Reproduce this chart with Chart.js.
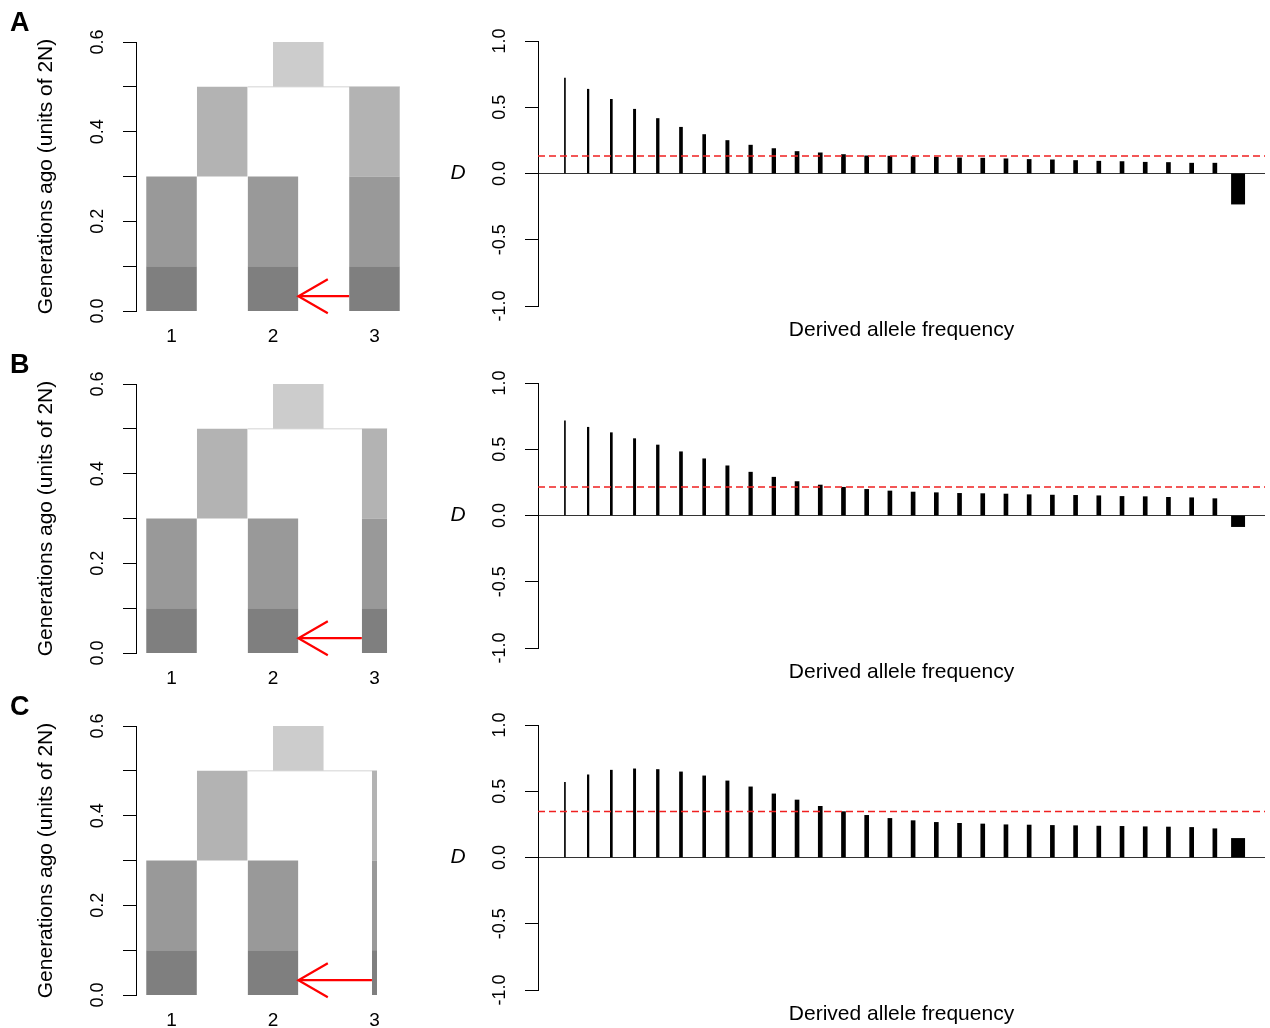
<!DOCTYPE html>
<html>
<head>
<meta charset="utf-8">
<script src="https://cdn.jsdelivr.net/npm/chart.js@4.4.1/dist/chart.umd.min.js"></script>
<style>
  body { margin: 0; background: #fff; width: 1270px; height: 1028px; position: relative; overflow: hidden; font-family: 'Liberation Sans', Arial, sans-serif; }
  .box { position: absolute; }
  .tag { position: absolute; font-weight: bold; font-size: 27px; line-height: 27px; color: #000; }
</style>
</head>
<body>
<script>
// panels and tree model
const panelTags = ['A', 'B', 'C'];
const popLabels = ['1', '2', '3'];
const popCenters = [1, 2, 3];
const anc12Center = 1.5;
const rootCenter = 2.25;
const pop3Size = [1, 0.5, 0.1];       // relative size of population 3 in A, B, C
const epochs = [0, 0.1, 0.3, 0.5, 0.6]; // generations ago (units of 2N)
const arrowTime = 0.033;
const treeTicks = [0, 0.1, 0.2, 0.3, 0.4, 0.5, 0.6];

// D statistic per derived allele frequency bin
const dTicks = [-1, -0.5, 0, 0.5, 1];
const dA = [0.721, 0.636, 0.560, 0.485, 0.415, 0.349, 0.294, 0.249, 0.214, 0.188,
            0.166, 0.156, 0.143, 0.133, 0.131, 0.126, 0.123, 0.118, 0.116, 0.111,
            0.106, 0.103, 0.098, 0.093, 0.090, 0.085, 0.083, 0.078, 0.078, -0.231];
const dB = [0.714, 0.666, 0.625, 0.580, 0.532, 0.481, 0.428, 0.375, 0.327, 0.289,
            0.256, 0.230, 0.213, 0.197, 0.185, 0.177, 0.172, 0.167, 0.165, 0.162,
            0.157, 0.154, 0.152, 0.149, 0.144, 0.142, 0.137, 0.134, 0.127, -0.084];
const dC = [0.568, 0.624, 0.659, 0.669, 0.664, 0.646, 0.616, 0.578, 0.533, 0.480,
            0.434, 0.386, 0.346, 0.318, 0.295, 0.278, 0.265, 0.258, 0.253, 0.247,
            0.245, 0.242, 0.240, 0.237, 0.235, 0.232, 0.230, 0.227, 0.217, 0.144];
const dMean = [0.133, 0.215, 0.348];

// styles
const barPx = [1, 1.6, 2, 2.3, 2.7, 3, 3, 3.3, 3.6, 3.7,
               4, 4, 4, 4, 4, 4, 4, 4, 4, 4, 4, 4, 4, 4, 4, 4, 4, 4, 4, 13.3];
const greys = { dark: '#7f7f7f', mid: '#999999', light: '#b3b3b3', root: '#cccccc' };
const rowTops = [0, 342, 684];

Chart.defaults.font.family = "'Liberation Sans', Arial, sans-serif";
Chart.defaults.color = '#000';

function rect(xc, size, t0, t1, color) {
    const h = size * 0.25;
    return {
        data: [{ x: xc - h, y: t1 }, { x: xc + h, y: t1 }],
        fill: { value: t0 },
        backgroundColor: color,
        borderColor: 'rgba(0,0,0,0)',
        borderWidth: 0,
        pointRadius: 0,
        order: 2
    };
}

// arrow head for the migration arrow
const arrowHead = {
    id: 'arrowHead',
    afterDatasetsDraw(chart) {
        chart.data.datasets.forEach((ds, i) => {
            if (!ds.arrow) return;
            const tip = chart.getDatasetMeta(i).data[1];
            const ctx = chart.ctx;
            const L = 34, a = Math.PI / 6;
            ctx.save();
            ctx.strokeStyle = ds.borderColor;
            ctx.lineWidth = ds.borderWidth;
            ctx.beginPath();
            ctx.moveTo(tip.x + L * Math.cos(a), tip.y - L * Math.sin(a));
            ctx.lineTo(tip.x, tip.y);
            ctx.lineTo(tip.x + L * Math.cos(a), tip.y + L * Math.sin(a));
            ctx.stroke();
            ctx.restore();
        });
    }
};

// italic D beside the y axis
const dLabel = {
    id: 'dLabel',
    afterDraw(chart) {
        const ctx = chart.ctx;
        ctx.save();
        ctx.font = "italic 21px 'Liberation Sans', Arial, sans-serif";
        ctx.fillStyle = '#000';
        ctx.textAlign = 'center';
        ctx.textBaseline = 'middle';
        ctx.fillText('D', 18, chart.scales.y.getPixelForValue(0));
        ctx.restore();
    }
};

function addCanvas(left, top, w, h) {
    const c = document.createElement('canvas');
    c.width = w; c.height = h;
    c.className = 'box';
    c.style.left = left + 'px';
    c.style.top = top + 'px';
    c.style.width = w + 'px';
    c.style.height = h + 'px';
    document.body.appendChild(c);
    return c;
}

function drawTree(r) {
    const s = pop3Size[r];
    const [t0, t1, t2, t3, t4] = epochs;
    const datasets = [
        {
            data: [{ x: anc12Center + 0.25, y: t3 }, { x: popCenters[2] + s * 0.25, y: t3 }],
            borderColor: '#e2e2e2', borderWidth: 1.5, pointRadius: 0, fill: false, order: 3
        },
        rect(popCenters[0], 1, t0, t1, greys.dark),
        rect(popCenters[0], 1, t1, t2, greys.mid),
        rect(popCenters[1], 1, t0, t1, greys.dark),
        rect(popCenters[1], 1, t1, t2, greys.mid),
        rect(anc12Center, 1, t2, t3, greys.light),
        rect(popCenters[2], s, t0, t1, greys.dark),
        rect(popCenters[2], s, t1, t2, greys.mid),
        rect(popCenters[2], s, t2, t3, greys.light),
        rect(rootCenter, 1, t3, t4, greys.root),
        {
            data: [{ x: popCenters[2] - s * 0.25, y: arrowTime }, { x: popCenters[1] + 0.25, y: arrowTime }],
            borderColor: '#ff0000', borderWidth: 2.2, pointRadius: 0, fill: false, order: 0, arrow: true
        }
    ];
    new Chart(addCanvas(0, rowTops[r], 420, 343), {
        type: 'line',
        data: { datasets },
        plugins: [arrowHead],
        options: {
            responsive: false,
            animation: false,
            events: [],
            layout: { padding: { top: 42, right: 10, left: 0, bottom: 0 } },
            plugins: { legend: { display: false }, tooltip: { enabled: false } },
            scales: {
                x: {
                    type: 'linear', min: 0.65, max: 3.35,
                    afterBuildTicks: sc => { sc.ticks = popCenters.map(v => ({ value: v })); },
                    ticks: { callback: v => popLabels[popCenters.indexOf(v)], font: { size: 19 }, padding: 14, maxRotation: 0 },
                    grid: { display: false, drawTicks: false },
                    border: { display: false },
                    afterFit: sc => { sc.height = 32; }
                },
                y: {
                    type: 'linear', min: 0, max: 0.6,
                    afterBuildTicks: sc => { sc.ticks = treeTicks.map(v => ({ value: v })); },
                    ticks: {
                        callback: v => (Math.round(v * 10) % 2 ? '' : v.toFixed(1)),
                        minRotation: 90, maxRotation: 90, crossAlign: 'center',
                        padding: 12.5, font: { size: 18 }
                    },
                    grid: { drawOnChartArea: false, tickLength: 13, tickColor: '#000', color: '#000' },
                    border: { display: true, color: '#000', width: 1 },
                    title: { display: true, text: 'Generations ago (units of 2N)', font: { size: 21 }, padding: { top: 34, bottom: 0 } },
                    afterFit: sc => { sc.width = 136; }
                }
            }
        }
    });
}

function drawD(r, values) {
    const datasets = values.map((v, i) => ({
        type: 'bar',
        data: [{ x: i + 1, y: v }],
        backgroundColor: '#000',
        barThickness: barPx[i],
        grouped: false,
        order: 1
    }));
    datasets.push({
        type: 'line',
        data: [{ x: -0.16, y: dMean[r] }, { x: 31.16, y: dMean[r] }],
        borderColor: '#f02020', borderWidth: 1.5, borderDash: [7, 4],
        pointRadius: 0, fill: false, order: 0
    });
    new Chart(addCanvas(440, rowTops[r], 830, 343), {
        type: 'bar',
        data: { datasets },
        plugins: [dLabel],
        options: {
            responsive: false,
            animation: false,
            events: [],
            layout: { padding: { top: 41, right: 5, left: 0, bottom: 0 } },
            plugins: { legend: { display: false }, tooltip: { enabled: false } },
            scales: {
                x: {
                    type: 'linear', min: -0.16, max: 31.16, offset: false,
                    ticks: { display: false },
                    grid: { display: false, drawTicks: false },
                    border: { display: false },
                    title: { display: true, text: 'Derived allele frequency', font: { size: 21 }, padding: { top: 0, bottom: 0 } },
                    afterFit: sc => { sc.height = 37; }
                },
                y: {
                    type: 'linear', min: -1, max: 1,
                    afterBuildTicks: sc => { sc.ticks = dTicks.map(v => ({ value: v })); },
                    ticks: {
                        callback: v => v.toFixed(1),
                        minRotation: 90, maxRotation: 90, crossAlign: 'center',
                        padding: 9.5, font: { size: 18 }
                    },
                    grid: {
                        drawOnChartArea: true, tickLength: 13, tickColor: '#000',
                        color: c => (c.tick && c.tick.value === 0 ? '#333333' : 'rgba(0,0,0,0)')
                    },
                    border: { display: true, color: '#000', width: 1 },
                    afterFit: sc => { sc.width = 98; }
                }
            }
        }
    });
}

const dSeries = [dA, dB, dC];
panelTags.forEach((tag, r) => {
    drawTree(r);
    drawD(r, dSeries[r]);
    const t = document.createElement('div');
    t.className = 'tag';
    t.textContent = tag;
    t.style.left = '10px';
    t.style.top = (rowTops[r] + 9) + 'px';
    document.body.appendChild(t);
});
</script>
</body>
</html>
